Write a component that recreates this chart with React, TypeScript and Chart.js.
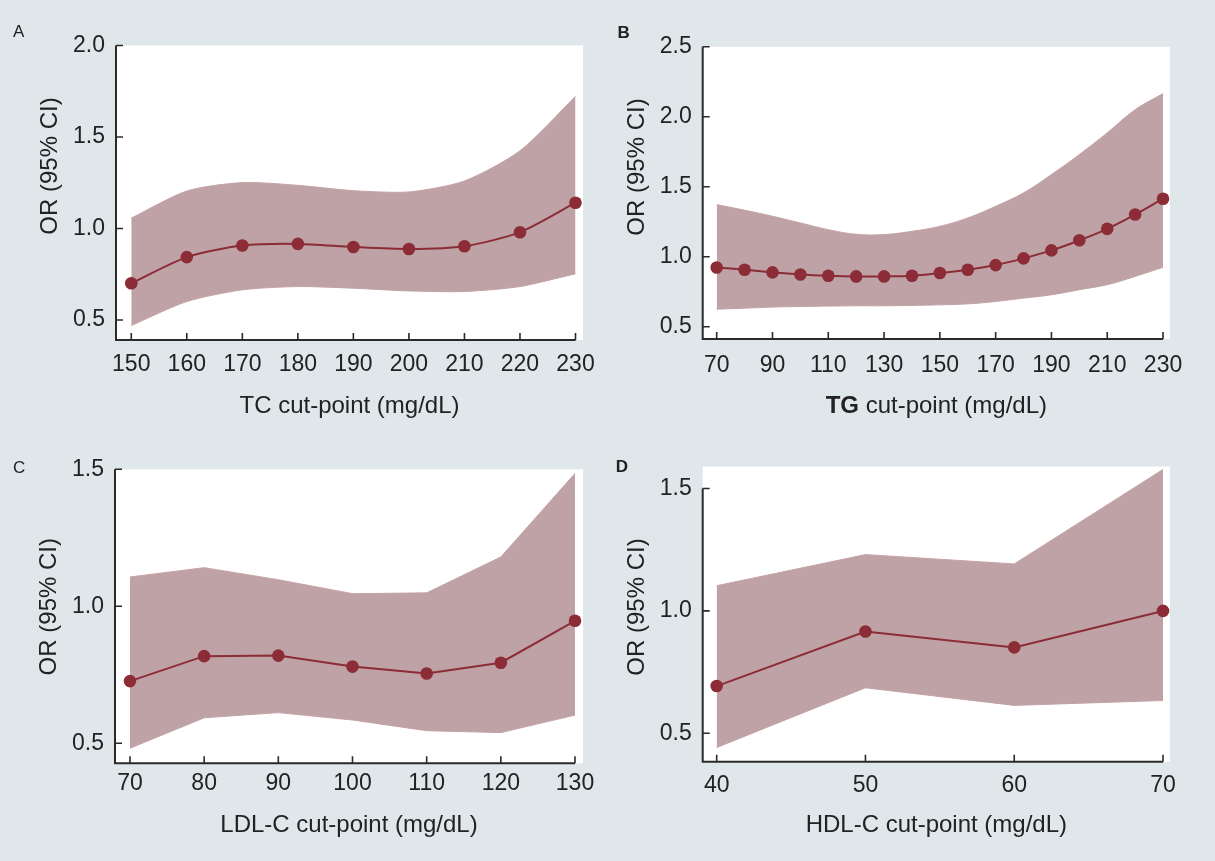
import React, { useEffect, useRef } from "react";
import { Chart, registerables } from "chart.js";

Chart.register(...registerables);

const FONT = '"Liberation Sans", Arial, Helvetica, sans-serif';
const PAGE_BG = "#dfe7ea";
const BAND = "rgb(190,162,165)";
const BAND_EDGE = "rgb(198,163,165)";
const LINE = "rgb(140,44,54)";
const AXIS = "#2a2a2a";
const TEXT = "#222222";
const TICK_SIZE = 23;

// ---- Panel A: TC ----
const tcCut = [150, 160, 170, 180, 190, 200, 210, 220, 230];
const tcOR = [0.701, 0.844, 0.907, 0.916, 0.899, 0.888, 0.903, 0.98, 1.141];
const tcUpper = [1.057, 1.205, 1.251, 1.236, 1.207, 1.2, 1.26, 1.425, 1.722];
const tcLower = [0.47, 0.601, 0.665, 0.683, 0.674, 0.659, 0.656, 0.683, 0.753];
const tcXTicks = [150, 160, 170, 180, 190, 200, 210, 220, 230];
const tcYTicks = [0.5, 1.0, 1.5, 2.0];

// ---- Panel B: TG ----
const tgCut = [70, 80, 90, 100, 110, 120, 130, 140, 150, 160, 170, 180, 190, 200, 210, 220, 230];
const tgOR = [0.923, 0.907, 0.888, 0.873, 0.864, 0.859, 0.859, 0.864, 0.883, 0.907, 0.94, 0.988, 1.045, 1.117, 1.199, 1.301, 1.414];
const tgUpper = [1.372, 1.332, 1.289, 1.241, 1.193, 1.16, 1.158, 1.181, 1.217, 1.277, 1.36, 1.456, 1.587, 1.73, 1.885, 2.05, 2.165];
const tgLower = [0.625, 0.632, 0.64, 0.644, 0.647, 0.649, 0.649, 0.652, 0.656, 0.663, 0.68, 0.704, 0.728, 0.764, 0.8, 0.859, 0.924];
const tgXTicks = [70, 90, 110, 130, 150, 170, 190, 210, 230];
const tgYTicks = [0.5, 1.0, 1.5, 2.0, 2.5];

// ---- Panel C: LDL-C ----
const ldlCut = [70, 80, 90, 100, 110, 120, 130];
const ldlOR = [0.727, 0.818, 0.82, 0.78, 0.755, 0.794, 0.947];
const ldlUpper = [1.107, 1.141, 1.097, 1.046, 1.049, 1.18, 1.485];
const ldlLower = [0.482, 0.593, 0.612, 0.585, 0.546, 0.539, 0.603];
const ldlXTicks = [70, 80, 90, 100, 110, 120, 130];
const ldlYTicks = [0.5, 1.0, 1.5];

// ---- Panel D: HDL-C ----
const hdlCut = [40, 50, 60, 70];
const hdlOR = [0.693, 0.916, 0.851, 1.0];
const hdlUpper = [1.103, 1.23, 1.192, 1.578];
const hdlLower = [0.442, 0.686, 0.614, 0.634];
const hdlXTicks = [40, 50, 60, 70];
const hdlYTicks = [0.5, 1.0, 1.5];

type Seg = { text: string; bold?: boolean };

type PanelCfg = {
  letter: string;
  letterBold: boolean;
  letterX: number;
  letterY: number;
  cut: number[];
  or: number[];
  upper: number[];
  lower: number[];
  xTicks: number[];
  yTicks: number[];
  xMin: number;
  xMax: number;
  yMin: number;
  yMax: number;
  tension: number;
  xTitle: Seg[];
  left: number;
  top: number;
  w: number;
  h: number;
  pad: { left: number; top: number; right: number; bottom: number };
  yW: number;
  xH: number;
  xTickPad: number;
  yTickPad: number;
  xTitleOffset: number;
  yTitleCenter: number;
  yTitleOffset: number;
};

const panels: PanelCfg[] = [
  {
    letter: "A", letterBold: false, letterX: 13, letterY: 37,
    cut: tcCut, or: tcOR, upper: tcUpper, lower: tcLower,
    xTicks: tcXTicks, yTicks: tcYTicks,
    xMin: 147.25, xMax: 231.35, yMin: 0.391, yMax: 2.0, tension: 0.25,
    xTitle: [{ text: "TC cut-point (mg/dL)" }],
    left: 0, top: 0, w: 608, h: 430,
    pad: { left: 10, top: 45.5, right: 25, bottom: 10 }, yW: 106, xH: 80,
    xTickPad: 11.2, yTickPad: 11, xTitleOffset: 73, yTitleCenter: 166, yTitleOffset: -59,
  },
  {
    letter: "B", letterBold: true, letterX: 9.6, letterY: 38,
    cut: tgCut, or: tgOR, upper: tgUpper, lower: tgLower,
    xTicks: tgXTicks, yTicks: tgYTicks,
    xMin: 64.98, xMax: 232.5, yMin: 0.412, yMax: 2.5, tension: 0.4,
    xTitle: [{ text: "TG", bold: true }, { text: " cut-point (mg/dL)" }],
    left: 608, top: 0, w: 607, h: 430,
    pad: { left: 10, top: 46.7, right: 45, bottom: 11 }, yW: 84.7, xH: 80,
    xTickPad: 13, yTickPad: 11, xTitleOffset: 74, yTitleCenter: 167, yTitleOffset: -59,
  },
  {
    letter: "C", letterBold: false, letterX: 13, letterY: 43,
    cut: ldlCut, or: ldlOR, upper: ldlUpper, lower: ldlLower,
    xTicks: ldlXTicks, yTicks: ldlYTicks,
    xMin: 67.98, xMax: 131.08, yMin: 0.427, yMax: 1.5, tension: 0,
    xTitle: [{ text: "LDL-C cut-point (mg/dL)" }],
    left: 0, top: 430, w: 608, h: 431,
    pad: { left: 10, top: 39.3, right: 25, bottom: 17.7 }, yW: 105, xH: 80,
    xTickPad: 6.9, yTickPad: 11, xTitleOffset: 68.4, yTitleCenter: 176.7, yTitleOffset: -59,
  },
  {
    letter: "D", letterBold: true, letterX: 7.7, letterY: 42,
    cut: hdlCut, or: hdlOR, upper: hdlUpper, lower: hdlLower,
    xTicks: hdlXTicks, yTicks: hdlYTicks,
    xMin: 39.06, xMax: 70.47, yMin: 0.384, yMax: 1.59, tension: 0,
    xTitle: [{ text: "HDL-C cut-point (mg/dL)" }],
    left: 608, top: 430, w: 607, h: 431,
    pad: { left: 10, top: 36.5, right: 45, bottom: 19.3 }, yW: 84.7, xH: 80,
    xTickPad: 9.8, yTickPad: 11, xTitleOffset: 70, yTitleCenter: 177, yTitleOffset: -59,
  },
];

function makeDecor(cfg: PanelCfg) {
  return {
    id: "panelDecor" + cfg.letter,
    beforeDraw(chart: any) {
      const { ctx, chartArea: a } = chart;
      ctx.save();
      ctx.fillStyle = "#ffffff";
      ctx.fillRect(a.left, a.top, a.right - a.left, a.bottom - a.top);
      ctx.restore();
    },
    afterDraw(chart: any) {
      const { ctx, chartArea: a, scales } = chart;
      const xs = scales.x;
      const ys = scales.y;
      const xPix = xs.ticks.map((t: any) => xs.getPixelForValue(t.value));
      const yPix = ys.ticks.map((t: any) => ys.getPixelForValue(t.value));
      const yTop = Math.min(...yPix);
      const xRight = Math.max(...xPix);
      ctx.save();
      ctx.strokeStyle = AXIS;
      ctx.lineWidth = 2;
      ctx.lineJoin = "miter";
      ctx.beginPath();
      ctx.moveTo(a.left, yTop);
      ctx.lineTo(a.left, a.bottom);
      ctx.lineTo(xRight, a.bottom);
      ctx.stroke();
      ctx.lineWidth = 1.6;
      ctx.beginPath();
      for (const p of xPix) {
        ctx.moveTo(p, a.bottom);
        ctx.lineTo(p, a.bottom - 7);
      }
      for (const p of yPix) {
        ctx.moveTo(a.left, p);
        ctx.lineTo(a.left + 7, p);
      }
      ctx.stroke();

      // panel letter
      ctx.fillStyle = TEXT;
      ctx.textBaseline = "alphabetic";
      ctx.textAlign = "left";
      ctx.font = `${cfg.letterBold ? "bold " : ""}17px ${FONT}`;
      ctx.fillText(cfg.letter, cfg.letterX, cfg.letterY);

      // x title (segments, centered on plot area)
      const segFont = (s: Seg) => `${s.bold ? "bold " : ""}24px ${FONT}`;
      let total = 0;
      const widths = cfg.xTitle.map((s) => {
        ctx.font = segFont(s);
        const w = ctx.measureText(s.text).width;
        total += w;
        return w;
      });
      let x = (a.left + a.right) / 2 - total / 2;
      const yb = a.bottom + cfg.xTitleOffset;
      cfg.xTitle.forEach((s, i) => {
        ctx.font = segFont(s);
        ctx.fillText(s.text, x, yb);
        x += widths[i];
      });

      // y title
      ctx.save();
      ctx.translate(a.left + cfg.yTitleOffset, cfg.yTitleCenter);
      ctx.rotate(-Math.PI / 2);
      ctx.textAlign = "center";
      ctx.textBaseline = "alphabetic";
      ctx.font = `24px ${FONT}`;
      ctx.fillText("OR (95% CI)", 0, 0);
      ctx.restore();
      ctx.restore();
    },
  };
}

function PanelChart({ cfg }: { cfg: PanelCfg }) {
  const ref = useRef<HTMLCanvasElement>(null);
  useEffect(() => {
    const pts = (ys: number[]) => cfg.cut.map((c, i) => ({ x: c, y: ys[i] }));
    const chart = new Chart(ref.current as HTMLCanvasElement, {
      type: "line",
      data: {
        datasets: [
          {
            label: "OR",
            data: pts(cfg.or),
            borderColor: LINE,
            borderWidth: 2,
            pointRadius: 6.3,
            pointBackgroundColor: LINE,
            pointBorderWidth: 0,
            tension: cfg.tension,
            fill: false,
          },
          {
            label: "Upper",
            data: pts(cfg.upper),
            borderColor: BAND_EDGE,
            borderWidth: 1,
            pointRadius: 0,
            backgroundColor: BAND,
            tension: cfg.tension,
            fill: "+1",
          },
          {
            label: "Lower",
            data: pts(cfg.lower),
            borderColor: BAND_EDGE,
            borderWidth: 1,
            pointRadius: 0,
            tension: cfg.tension,
            fill: false,
          },
        ],
      },
      options: {
        responsive: false,
        animation: false,
        devicePixelRatio: 1,
        layout: { padding: cfg.pad },
        plugins: {
          legend: { display: false },
          tooltip: { enabled: false },
          title: { display: false },
        },
        scales: {
          x: {
            type: "linear",
            min: cfg.xMin,
            max: cfg.xMax,
            grid: { display: false, drawTicks: false },
            border: { display: false },
            afterBuildTicks: (s: any) => {
              s.ticks = cfg.xTicks.map((v) => ({ value: v }));
            },
            afterFit: (s: any) => {
              s.height = cfg.xH;
            },
            ticks: {
              padding: cfg.xTickPad,
              color: TEXT,
              font: { family: FONT, size: TICK_SIZE },
              maxRotation: 0,
              autoSkip: false,
              callback: (v: any) => String(v),
            },
          },
          y: {
            type: "linear",
            min: cfg.yMin,
            max: cfg.yMax,
            grid: { display: false, drawTicks: false },
            border: { display: false },
            afterBuildTicks: (s: any) => {
              s.ticks = cfg.yTicks.map((v) => ({ value: v }));
            },
            afterFit: (s: any) => {
              s.width = cfg.yW;
            },
            ticks: {
              padding: cfg.yTickPad,
              color: TEXT,
              font: { family: FONT, size: TICK_SIZE },
              autoSkip: false,
              callback: (v: any) => Number(v).toFixed(1),
            },
          },
        },
      },
      plugins: [makeDecor(cfg)],
    } as any);
    return () => chart.destroy();
  }, []);
  return (
    <canvas
      ref={ref}
      width={cfg.w}
      height={cfg.h}
      style={{ position: "absolute", left: cfg.left, top: cfg.top, width: cfg.w, height: cfg.h }}
    />
  );
}

export default function App() {
  return (
    <div
      style={{
        position: "absolute",
        left: 0,
        top: 0,
        width: 1215,
        height: 861,
        background: PAGE_BG,
        overflow: "hidden",
      }}
    >
      {panels.map((p) => (
        <PanelChart key={p.letter} cfg={p} />
      ))}
    </div>
  );
}
